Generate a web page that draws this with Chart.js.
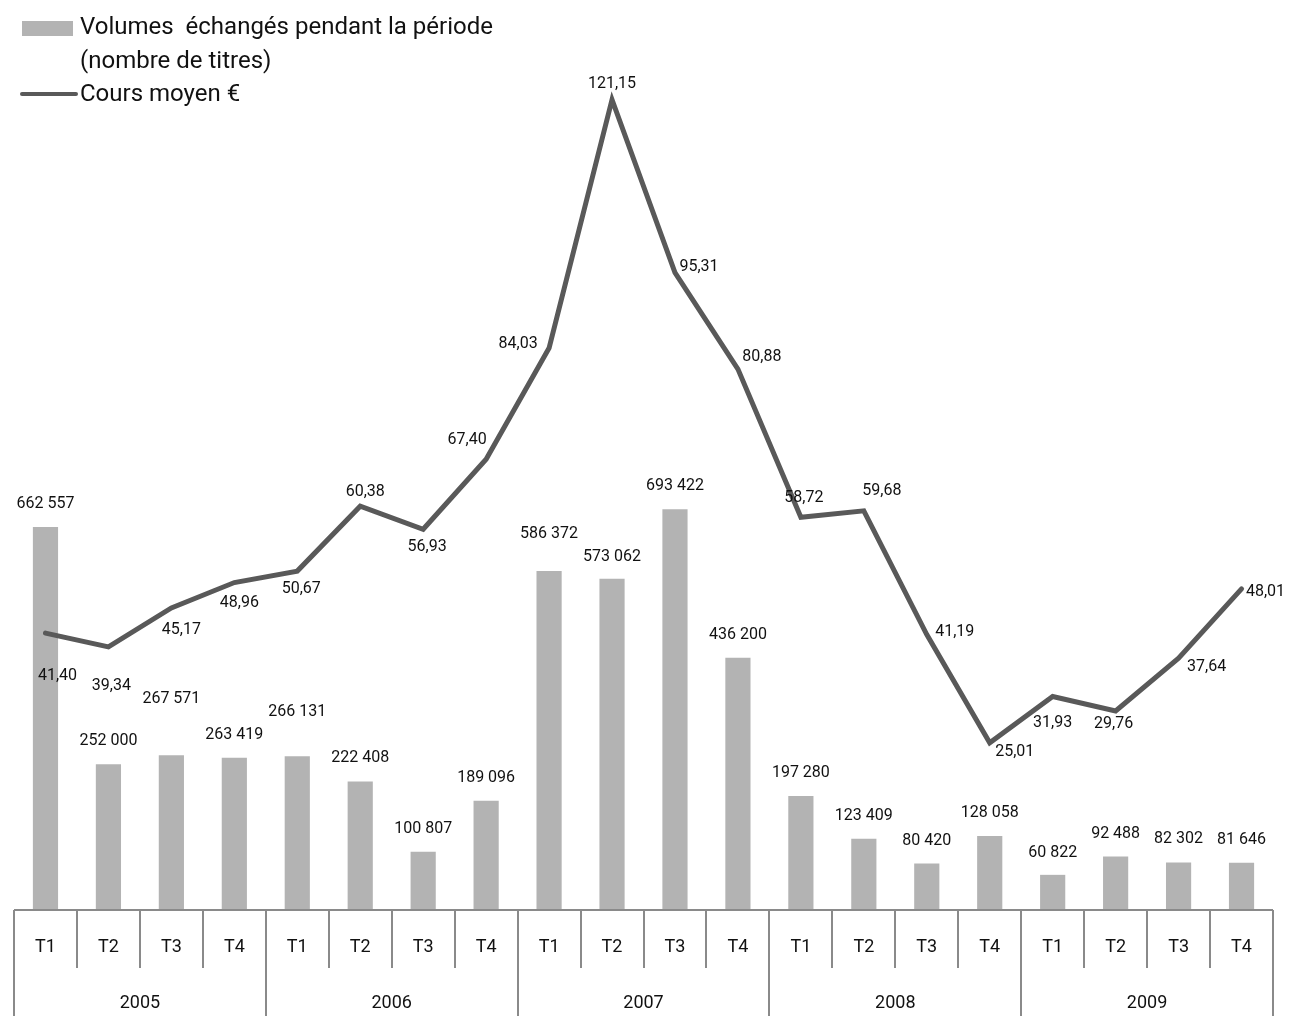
<!DOCTYPE html>
<html>
<head>
<meta charset="utf-8">
<script src="https://cdn.jsdelivr.net/npm/chart.js"></script>
<style>
  html,body{margin:0;padding:0;background:#fff;}
  #wrap{position:relative;width:1291px;height:1016px;}
  canvas{position:absolute;left:0;top:0;}
  .lg{position:absolute;font-family:Roboto,"Liberation Sans",sans-serif;font-size:24px;color:#111;line-height:33.5px;white-space:nowrap;}
</style>
</head>
<body>
<div id="wrap">
  <canvas id="c" width="1291" height="1016"></canvas>
  <div class="lg" style="left:22px;top:21px;width:51px;height:15px;background:#b3b3b3;"></div>
  <div class="lg" style="left:80px;top:10px;">Volumes&nbsp; échangés pendant la période<br>(nombre de titres)<br>Cours moyen €</div>
  <div class="lg" style="left:20px;top:92px;width:58px;height:4px;background:#595959;border-radius:2px;"></div>
</div>
<script>
const quarters = ["T1","T2","T3","T4","T1","T2","T3","T4","T1","T2","T3","T4","T1","T2","T3","T4","T1","T2","T3","T4"];
const years = ["2005","2006","2007","2008","2009"];
const volumes = [662557,252000,267571,263419,266131,222408,100807,189096,586372,573062,693422,436200,197280,123409,80420,128058,60822,92488,82302,81646];
const prices = [41.40,39.34,45.17,48.96,50.67,60.38,56.93,67.40,84.03,121.15,95.31,80.88,58.72,59.68,41.19,25.01,31.93,29.76,37.64,48.01];

// label offsets (style only)
const barLabelDy = [-23,-23,-56,-23,-44,-23,-23,-23,-37,-22,-23,-23,-23,-23,-23,-23,-22,-23,-23,-23];
const lineLabelOff = [[12,43],[3,39],[10,22],[5,20],[4,18],[5,-14],[4,18],[-19,-19],[-31,-4],[0,-16],[24,-6],[24,-12],[3,-19],[18,-20],[28,-3],[25,9],[0,27],[-2,13],[28,9],[24,3]];

const fmtVol = v => String(v).replace(/\B(?=(\d{3})+(?!\d))/g, " ");
const fmtPrice = v => v.toFixed(2).replace(".", ",");

const tablePlugin = {
  id: "table",
  afterDraw(chart) {
    const ctx = chart.ctx, x = chart.scales.x, area = chart.chartArea;
    const n = quarters.length;
    const step = (area.right - area.left) / n;
    const top = area.bottom, qBottom = top + 58, bottom = 1016;
    ctx.save();
    ctx.strokeStyle = "#8a8a8a";
    ctx.lineWidth = 2;
    ctx.beginPath();
    ctx.moveTo(area.left, top); ctx.lineTo(area.right, top);
    for (let i = 0; i <= n; i++) {
      const px = Math.round(area.left + i * step);
      ctx.moveTo(px, top);
      ctx.lineTo(px, i % 4 === 0 ? bottom : qBottom);
    }
    ctx.stroke();
    ctx.fillStyle = "#111";
    ctx.font = "18px Roboto, 'Liberation Sans', sans-serif";
    ctx.textAlign = "center"; ctx.textBaseline = "middle";
    quarters.forEach((q, i) => ctx.fillText(q, x.getPixelForValue(i), top + 37));
    years.forEach((y, j) => {
      const cx = (x.getPixelForValue(j * 4) + x.getPixelForValue(j * 4 + 3)) / 2;
      ctx.fillText(y, cx, top + 93);
    });
    ctx.restore();
  }
};

const labelPlugin = {
  id: "labels",
  afterDatasetsDraw(chart) {
    const ctx = chart.ctx;
    ctx.save();
    ctx.fillStyle = "#111";
    ctx.font = "16px Roboto, 'Liberation Sans', sans-serif";
    ctx.textAlign = "center"; ctx.textBaseline = "middle";
    chart.getDatasetMeta(1).data.forEach((el, i) => {
      ctx.fillText(fmtVol(volumes[i]), el.x, el.y + barLabelDy[i]);
    });
    chart.getDatasetMeta(0).data.forEach((el, i) => {
      ctx.fillText(fmtPrice(prices[i]), el.x + lineLabelOff[i][0], el.y + lineLabelOff[i][1]);
    });
    ctx.restore();
  }
};

new Chart(document.getElementById("c"), {
  data: {
    labels: quarters,
    datasets: [
      { type: "line", label: "Cours moyen €", data: prices, yAxisID: "y2",
        borderColor: "#595959", borderWidth: 5, pointRadius: 0, tension: 0, order: 0,
        borderJoinStyle: "miter", borderCapStyle: "round" },
      { type: "bar", label: "Volumes échangés pendant la période (nombre de titres)", data: volumes, yAxisID: "y",
        backgroundColor: "#b3b3b3", categoryPercentage: 0.4, barPercentage: 1, order: 1 }
    ]
  },
  options: {
    responsive: false, animation: false,
    layout: { padding: { left: 14, right: 18, top: 80, bottom: 106 } },
    plugins: { legend: { display: false }, tooltip: { enabled: false } },
    scales: {
      x: { display: false },
      y: { display: false, min: 0, max: 1435900 },
      y2: { display: false, min: 0, max: 124.1 }
    }
  },
  plugins: [tablePlugin, labelPlugin]
});
</script>
</body>
</html>
